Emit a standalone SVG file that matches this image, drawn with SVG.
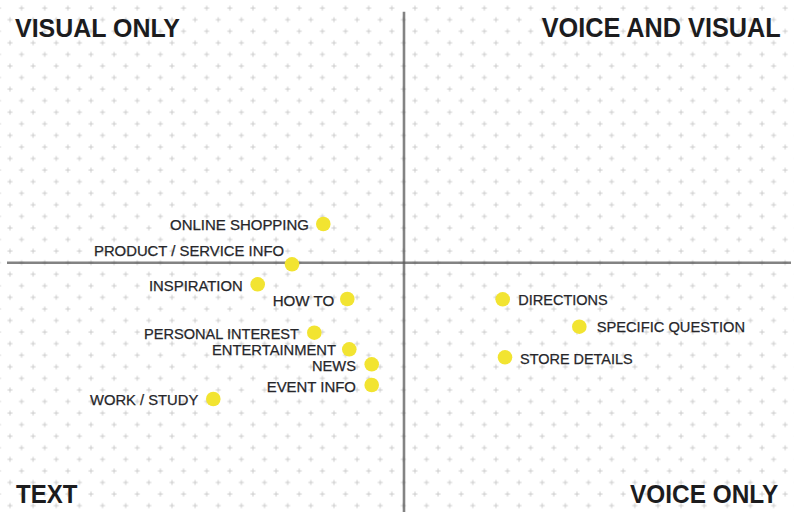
<svg xmlns="http://www.w3.org/2000/svg" width="794" height="514" viewBox="0 0 794 514">
  <style>
    .head { font-family: "Liberation Sans", Arial, sans-serif; font-weight: bold; font-size: 26px; fill: #1c1c1e; }
    .lbl { font-family: "Liberation Sans", Arial, sans-serif; font-size: 15px; fill: #26262a; stroke: #26262a; stroke-width: 0.25; }
    .dot { fill: #F2E431; }
    .axis { stroke: #5a5a5a; stroke-opacity: 0.75; stroke-width: 2.6; }
  </style>
  <defs>
    <pattern id="grid" patternUnits="userSpaceOnUse" x="4.2" y="2.3" width="23.14" height="23.14">
      <path d="M3.3 17.4h5M5.8 14.9v5M14.87 5.83h5M17.37 3.33v5" stroke="#c8c8c8" stroke-width="0.9" fill="none"/>
    </pattern>
  </defs>
  <rect width="794" height="514" fill="#ffffff"/>
  <rect width="794" height="514" fill="url(#grid)"/>

  <g id="axes">
    <line class="axis" x1="7" y1="262.7" x2="791" y2="262.7"/>
    <line class="axis" x1="404" y1="11.7" x2="404" y2="512"/>
  </g>

  <g id="quadrant-labels">
    <text id="q-visual-only" class="head" x="15" y="36.7" textLength="165" lengthAdjust="spacingAndGlyphs">VISUAL ONLY</text>
    <text id="q-voice-visual" class="head" x="541.7" y="36.7" font-size="24.5" transform="translate(0 36.7) scale(1 1.06) translate(0 -36.7)" textLength="239" lengthAdjust="spacingAndGlyphs">VOICE AND VISUAL</text>
    <text id="q-text" class="head" x="16" y="503.3" textLength="61.3" lengthAdjust="spacingAndGlyphs">TEXT</text>
    <text id="q-voice-only" class="head" x="630" y="503.3" textLength="148.3" lengthAdjust="spacingAndGlyphs">VOICE ONLY</text>
  </g>

  <g id="connectors"></g>

  <g id="online-shopping">
    <circle class="dot" cx="323.3" cy="224" r="7.3"/>
    <text class="lbl" x="309" y="230" text-anchor="end" textLength="139" lengthAdjust="spacingAndGlyphs">ONLINE SHOPPING</text>
  </g>
  <g id="product-service-info">
    <circle class="dot" cx="292" cy="264.3" r="7.3"/>
    <text class="lbl" x="284" y="256" text-anchor="end" textLength="190" lengthAdjust="spacingAndGlyphs">PRODUCT / SERVICE INFO</text>
  </g>
  <g id="inspiration">
    <circle class="dot" cx="257.7" cy="284.3" r="7.3"/>
    <text class="lbl" x="242.7" y="291" text-anchor="end" textLength="93.7" lengthAdjust="spacingAndGlyphs">INSPIRATION</text>
  </g>
  <g id="how-to">
    <circle class="dot" cx="347.3" cy="299" r="7.3"/>
    <text class="lbl" x="334.3" y="306" text-anchor="end" textLength="61.6" lengthAdjust="spacingAndGlyphs">HOW TO</text>
  </g>
  <g id="personal-interest">
    <circle class="dot" cx="314.3" cy="332.7" r="7.3"/>
    <text class="lbl" x="299" y="339" text-anchor="end" textLength="155" lengthAdjust="spacingAndGlyphs">PERSONAL INTEREST</text>
  </g>
  <g id="entertainment">
    <circle class="dot" cx="349.3" cy="349.3" r="7.3"/>
    <text class="lbl" x="336" y="354.7" text-anchor="end" textLength="124" lengthAdjust="spacingAndGlyphs">ENTERTAINMENT</text>
  </g>
  <g id="news">
    <circle class="dot" cx="371.7" cy="364.3" r="7.3"/>
    <text class="lbl" x="356" y="371" text-anchor="end" textLength="44" lengthAdjust="spacingAndGlyphs">NEWS</text>
  </g>
  <g id="event-info">
    <circle class="dot" cx="371.7" cy="385" r="7.3"/>
    <text class="lbl" x="356" y="391.7" text-anchor="end" textLength="89.3" lengthAdjust="spacingAndGlyphs">EVENT INFO</text>
  </g>
  <g id="work-study">
    <circle class="dot" cx="213.3" cy="399" r="7.3"/>
    <text class="lbl" x="198.3" y="404.7" text-anchor="end" textLength="108.3" lengthAdjust="spacingAndGlyphs">WORK / STUDY</text>
  </g>
  <g id="directions">
    <circle class="dot" cx="502.7" cy="299.3" r="7.3"/>
    <text class="lbl" x="518.3" y="304.7" textLength="89.4" lengthAdjust="spacingAndGlyphs">DIRECTIONS</text>
  </g>
  <g id="specific-question">
    <circle class="dot" cx="579.3" cy="326.7" r="7.3"/>
    <text class="lbl" x="596.7" y="331.7" textLength="148.3" lengthAdjust="spacingAndGlyphs">SPECIFIC QUESTION</text>
  </g>
  <g id="store-details">
    <circle class="dot" cx="505" cy="357.3" r="7.3"/>
    <text class="lbl" x="520" y="364" textLength="112.7" lengthAdjust="spacingAndGlyphs">STORE DETAILS</text>
  </g>
</svg>
